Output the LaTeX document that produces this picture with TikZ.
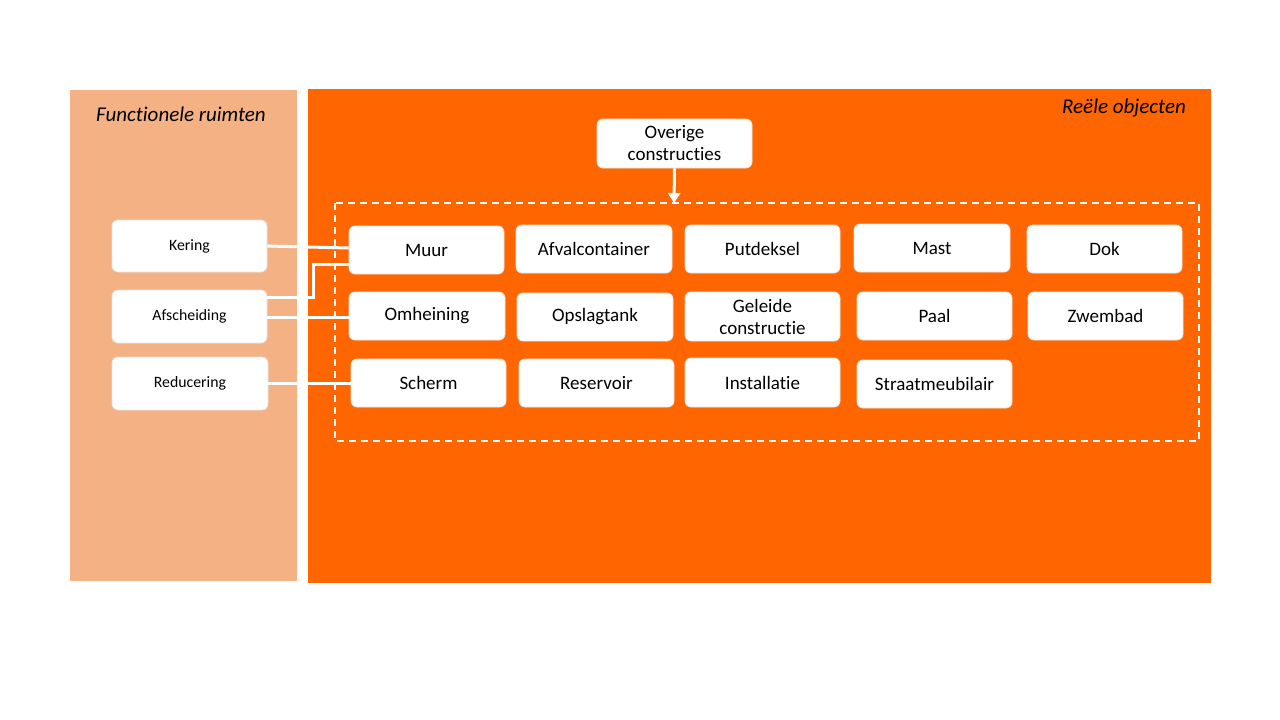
\documentclass[tikz,border=0pt]{standalone}
\usepackage{fontspec}
\setmainfont{Carlito}[Ligatures=NoCommon]
\usetikzlibrary{arrows.meta}
\definecolor{lightor}{HTML}{F4B183}
\definecolor{darkor}{HTML}{FF6600}
\begin{document}
\begin{tikzpicture}[x=1pt,y=-1pt,
  box/.style={draw=white!90!black,line width=0.8pt,fill=white,rounded corners=6pt,inner sep=0pt,align=center,font=\fontsize{19}{22}\selectfont},
  sbox/.style={box,font=\fontsize{15.8}{18}\selectfont},
  conn/.style={draw=white,line width=3pt},
  title/.style={font=\fontsize{21}{24}\selectfont\itshape,inner sep=0pt}]
\useasboundingbox (0,0) rectangle (1280,720);
\fill[white] (0,0) rectangle (1280,720);
\fill[lightor] (70,90) rectangle (297,581);
\fill[darkor] (308,89) rectangle (1211,583);
\node[title,anchor=center] (tf) at (181,114) {Functionele ruimten};
\node[title,anchor=east] (tr) at (1186,108) {Reële objecten};
\draw[white,line width=1.5pt,dash pattern=on 7pt off 5pt] (335,203) rectangle (1199,441);
\coordinate (dtop) at (674,203);
% boxes
\newcommand{\bx}[6]{\node[#6,minimum width=#4-#2,minimum height=#5-#3] (#1) at ({(#2+#4)/2},{(#3+#5)/2})}
\bx{ov}{597}{119}{752}{168}{box} {Overige\\constructies};
\bx{muur}{349}{226}{504}{274}{box} {Muur};
\bx{afv}{516}{225}{672}{273}{box} {Afvalcontainer};
\bx{put}{685}{225}{840}{273}{box} {Putdeksel};
\bx{mast}{854}{224}{1010}{272}{box} {Mast};
\bx{dok}{1027}{225}{1182}{273}{box} {Dok};
\bx{omh}{349}{292}{505}{340}{box} {Omheining};
\bx{ops}{517}{293}{673}{341}{box} {Opslagtank};
\bx{gel}{685}{292}{840}{341}{box} {Geleide\\constructie};
\bx{paal}{857}{292}{1012}{340}{box} {Paal};
\bx{zwe}{1028}{292}{1183}{340}{box} {Zwembad};
\bx{sch}{351}{359}{506}{407}{box} {Scherm};
\bx{res}{519}{359}{674}{407}{box} {Reservoir};
\bx{ins}{685}{358}{840}{407}{box} {Installatie};
\bx{stm}{857}{360}{1012}{408}{box} {Straatmeubilair};
\bx{ker}{112}{220}{267}{272}{sbox} {Kering};
\bx{afs}{112}{290}{267}{343}{sbox} {Afscheiding};
\bx{red}{112}{357}{268}{410}{sbox} {Reducering};
% connectors
\draw[conn,-{Triangle[length=10pt,width=12pt]}] (ov.south) -- (dtop);
\draw[conn] (ker.east |- 0,246) -- (muur.west |- 0,248);
\draw[conn] (afs.east |- 0,297) -- (313,297) -- (313,264) -- (muur.west |- 0,264);
\draw[conn] (afs.east |- 0,317) -- (omh.west |- 0,317);
\draw[conn] (red.east |- 0,383) -- (sch.west |- 0,383);
\end{tikzpicture}
\end{document}
